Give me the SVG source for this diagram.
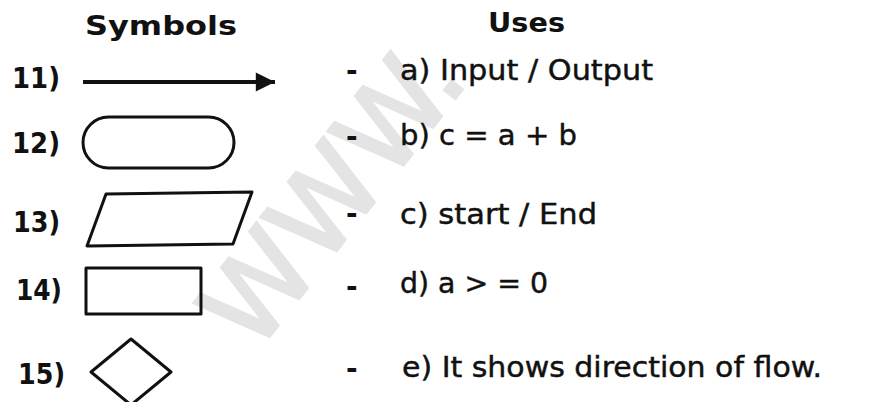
<svg xmlns="http://www.w3.org/2000/svg" width="877" height="402" viewBox="0 0 877 402">
<defs>
<style>
.hd{font-family:"DejaVu Sans","Verdana",sans-serif;font-weight:bold;font-size:27px;fill:#111}
.num{font-family:"DejaVu Sans","Verdana",sans-serif;font-weight:bold;font-size:28px;fill:#111}
.txt{font-family:"DejaVu Sans","Verdana",sans-serif;font-size:28px;fill:#111;stroke:#111;stroke-width:0.45}
.dash{font-family:"DejaVu Sans","Verdana",sans-serif;font-weight:bold;font-size:28px;fill:#111}
.shape{fill:none;stroke:#111;stroke-width:3;stroke-linejoin:round}
.wm{font-family:"DejaVu Sans",sans-serif;font-size:110px;fill:#e4e4e4;stroke:#e4e4e4;stroke-width:3}
</style>
<marker id="ah" viewBox="0 0 10 10" refX="10" refY="5" markerWidth="5" markerHeight="4.8" markerUnits="strokeWidth" orient="auto">
<path d="M0,0 L10,5 L0,10 Z" fill="#111"/>
</marker>
</defs>
<rect width="877" height="402" fill="#fff"/>
<text class="wm" transform="translate(255,355) rotate(-52)">WWW.</text>
<g id="headers">
<text class="hd" x="85" y="35" textLength="152" lengthAdjust="spacingAndGlyphs">Symbols</text>
<text class="hd" x="488" y="32" textLength="77" lengthAdjust="spacingAndGlyphs">Uses</text>
</g>
<g id="row11">
<text class="num" x="12" y="88" textLength="48" lengthAdjust="spacingAndGlyphs">11)</text>
</g>
<g id="row12">
<text class="num" x="12" y="153" textLength="48" lengthAdjust="spacingAndGlyphs">12)</text>
<rect class="shape" x="83" y="117" width="151" height="51" rx="25.5"/>
</g>
<g id="row13">
<text class="num" x="13" y="232" textLength="47" lengthAdjust="spacingAndGlyphs">13)</text>
<polygon class="shape" points="106,194 252,192 233,244 87,246"/>
</g>
<g id="row14">
<text class="num" x="16" y="300" textLength="46" lengthAdjust="spacingAndGlyphs">14)</text>
<rect class="shape" x="86" y="268" width="115" height="46"/>
</g>
<g id="row15">
<text class="num" x="18" y="384" textLength="47" lengthAdjust="spacingAndGlyphs">15)</text>
<polygon class="shape" points="91,372 131,339 171,372 131,405"/>
</g>
<g id="connectors">
<line x1="83" y1="82" x2="275" y2="82" stroke="#111" stroke-width="4" marker-end="url(#ah)"/>
</g>
<g id="uses">
<text class="dash" x="346" y="80">-</text>
<text class="txt" x="400" y="80" textLength="253" lengthAdjust="spacingAndGlyphs">a) Input / Output</text>
<text class="dash" x="346" y="146">-</text>
<text class="txt" x="400" y="145" textLength="177" lengthAdjust="spacingAndGlyphs">b) c = a + b</text>
<text class="dash" x="346" y="223">-</text>
<text class="txt" x="400" y="224" textLength="197" lengthAdjust="spacingAndGlyphs">c) start / End</text>
<text class="dash" x="346" y="296">-</text>
<text class="txt" x="400" y="293" textLength="148" lengthAdjust="spacingAndGlyphs">d) a &gt; = 0</text>
<text class="dash" x="346" y="378">-</text>
<text class="txt" x="402" y="377" textLength="420" lengthAdjust="spacingAndGlyphs">e) It shows direction of flow.</text>
</g>
</svg>
